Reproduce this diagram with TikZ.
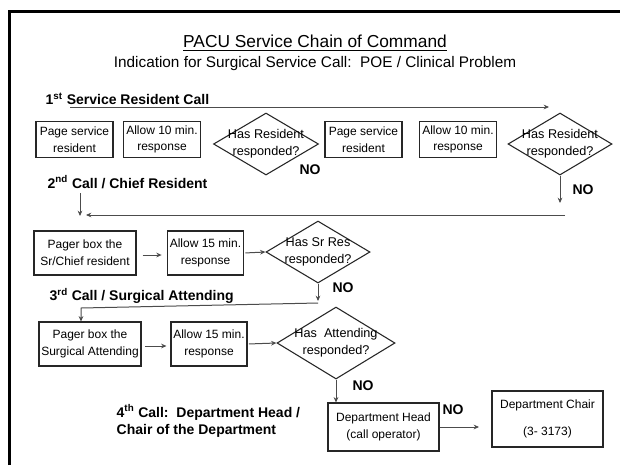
\documentclass[tikz,border=0pt]{standalone}
\usepackage{fontspec}
\setmainfont{Liberation Sans}
\usetikzlibrary{shapes.geometric,arrows.meta}
\begin{document}
\begin{tikzpicture}[x=0.75pt,y=-0.75pt,
  box/.style={draw=black!85, line width=0.8pt, align=center, font=\fontsize{9}{12.5}\selectfont, inner sep=0pt},
  dia/.style={draw=black!85, line width=0.8pt, shape=diamond, inner sep=0pt},
  dtxt/.style={align=center, font=\fontsize{9.5}{12.5}\selectfont},
  lbl/.style={font=\fontsize{10.5}{13}\selectfont\bfseries, anchor=west, align=left},
  nolbl/.style={font=\fontsize{10.5}{13}\selectfont\bfseries},
  arr/.style={draw=black!70, line width=0.75pt, -{Stealth[length=4pt,width=3.5pt]}},
  ln/.style={draw=black!70, line width=0.75pt}]
\useasboundingbox (0,0) rectangle (620,465);
\fill[white] (0,0) rectangle (620,465);
% frame
\draw[line width=2.25pt, line join=miter] (9.5,465) -- (9.5,11) -- (620,11);
% titles
\node[font=\fontsize{13}{15}\selectfont] (title) at (315,43) {\underline{PACU Service Chain of Command}};
\node[font=\fontsize{11.5}{14}\selectfont] (sub) at (315,64) {Indication for Surgical Service Call:\ \ POE / Clinical Problem};
% row 1
\node[lbl] (l1) at (41,99) {1\textsuperscript{st} Service Resident Call};
\coordinate (a0) at (70,107);
\coordinate (a1) at (549,107);
\draw[arr] (a0) -- (a1);
\node[box, minimum width=57.75pt, minimum height=27pt] (b1) at (74.5,139.5) {Page service\\resident};
\node[box, minimum width=57.75pt, minimum height=27pt] (b2) at (162,139.5) {Allow 10 min.\\response};
\node[dia, minimum width=78.75pt, minimum height=46.5pt] (d1) at (266,144) {};
\node[dtxt] (d1t) at (266,144) {Has Resident\\responded?};
\node[box, minimum width=57.75pt, minimum height=27pt] (b3) at (363.5,139.5) {Page service\\resident};
\node[box, minimum width=57.75pt, minimum height=27pt] (b4) at (458,139.5) {Allow 10 min.\\response};
\node[dia, minimum width=78pt, minimum height=46.5pt] (d2) at (560,144) {};
\node[dtxt] (d2t) at (560,144) {Has Resident\\responded?};
\node[nolbl] (no1) at (310,170) {NO};
\coordinate (c1) at (560,203);
\draw[arr] (d2.south) -- (c1);
\node[nolbl] (no2) at (583,190) {NO};
% row 2
\node[lbl] (l2) at (43,182) {2\textsuperscript{nd} Call / Chief Resident};
\coordinate (c2) at (80,193);
\coordinate (c3) at (80,216);
\draw[arr] (c2) -- (c3);
\coordinate (c4) at (565,215);
\coordinate (c5) at (86,215);
\draw[arr] (c4) -- (c5);
\node[box, minimum width=76.5pt, minimum height=33pt] (bA) at (85,253) {Pager box the\\Sr/Chief resident};
\node[box, minimum width=57pt, minimum height=33pt] (bB) at (205.5,253) {Allow 15 min.\\response};
\node[dia, minimum width=78pt, minimum height=46.5pt] (d3) at (318,252) {};
\node[dtxt] (d3t) at (318,252) {Has Sr Res\\responded?};
\draw[arr, shorten <=4.5pt, shorten >=4pt] ([yshift=-1.5pt]bA.east) -- ([yshift=-1.5pt]bB.west);
\draw[arr, shorten <=1pt] (bB.east) -- (d3.west);
\node[nolbl] (no3) at (343,288) {NO};
\coordinate (c6) at (318,301);
\draw[arr] (d3.south) -- (c6);
% row 3
\node[lbl] (l3) at (45,296) {3\textsuperscript{rd} Call / Surgical Attending};
\coordinate (c7) at (318,303);
\coordinate (c8) at (81,308);
\node[box, minimum width=76.5pt, minimum height=33pt] (bC) at (90,344) {Pager box the\\Surgical Attending};
\node[box, minimum width=57pt, minimum height=33pt] (bD) at (209,344) {Allow 15 min.\\response};
\node[dia, minimum width=88.5pt, minimum height=54pt] (d4) at (336,343) {};
\node[dtxt] (d4t) at (336,343) {Has\ \ Attending\\responded?};
\draw[arr] (c7) -- (c8) -- (c8 |- bC.north);
\draw[arr, shorten <=2.5pt, shorten >=3pt] ([yshift=-1.5pt]bC.east) -- ([yshift=-1.5pt]bD.west);
\draw[arr, shorten <=1pt] (bD.east) -- (d4.west);
\node[nolbl] (no4) at (363,386) {NO};
% row 4
\node[lbl] (l4) at (112,421) {4\textsuperscript{th} Call:\ \ Department Head /\\Chair of the Department};
\node[box, minimum width=83.25pt, minimum height=36pt] (dh) at (383.5,427) {Department Head\\(call operator)};
\draw[arr] (d4.south) -- (d4.south |- dh.north);
\node[box, minimum width=83.25pt, minimum height=42pt] (dc) at (547.5,419) {Department Chair\\[8pt](3- 3173)};
\node[nolbl] (no5) at (453,410) {NO};
\coordinate (c9) at (479,427);
\draw[arr] (dh.east) -- (c9);
\end{tikzpicture}
\end{document}
